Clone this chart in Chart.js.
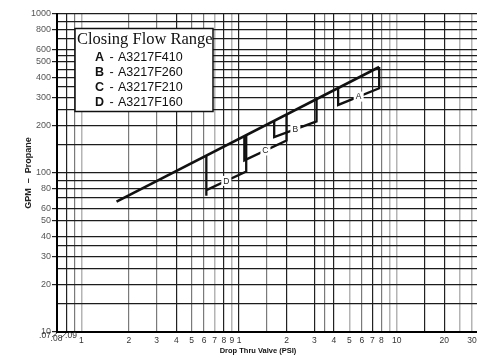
<!DOCTYPE html>
<html>
<head>
<meta charset="utf-8">
<script src="https://cdn.jsdelivr.net/npm/chart.js@4.4.1/dist/chart.umd.min.js"></script>
<style>
  html, body { margin: 0; padding: 0; background: #fff; }
</style>
</head>
<body>
<canvas id="flow" width="477" height="357"></canvas>
<script>
// closing flow ranges, GPM propane vs drop thru valve (log-log paper)
const xGrid = [0.07, 0.08, 0.09, 0.1, 0.2, 0.3, 0.4, 0.5, 0.6, 0.7, 0.8, 0.9, 1, 1.5, 2, 3, 3.5, 4, 5, 6, 7, 8, 9, 10, 15, 20, 25, 30];
const xLabels = ['', '', '', '1', '2', '3', '4', '5', '6', '7', '8', '9', '1', '', '2', '3', '', '4', '5', '6', '7', '8', '', '10', '', '20', '', '30'];
const xLeftLabels = ['.07', '.08', '.09'];
const yGrid = [10, 15, 20, 25, 30, 35, 40, 50, 60, 70, 80, 90, 100, 150, 200, 250, 300, 350, 400, 450, 500, 550, 600, 700, 800, 900, 1000];
const yLabels = ['10', '', '20', '', '30', '', '40', '50', '60', '', '80', '', '100', '', '200', '', '300', '', '400', '', '500', '', '600', '', '800', '', '1000'];

const flowX = [0.167, 7.74];
const flowY = [66, 464];

const rangeNames = ['A', 'B', 'C', 'D'];
const rangeParts = ['A3217F410', 'A3217F260', 'A3217F210', 'A3217F160'];
const rangeAX = [4.25, 4.25, 7.74, 7.74];
const rangeAY = [343, 268, 341, 464];
const rangeBX = [1.67, 1.67, 3.1, 3.1];
const rangeBY = [213, 168, 211, 292];
const rangeCX = [1.08, 1.08, 2.0, 2.0];
const rangeCY = [171, 120, 160, 233];
const rangeDX = [0.62, 0.62, 0.62, 1.11, 1.11];
const rangeDY = [128, 72, 78, 102, 173];

const rangeX = [rangeAX, rangeBX, rangeCX, rangeDX];
const rangeY = [rangeAY, rangeBY, rangeCY, rangeDY];

// shade of each vertical line on the paper
const darkX = [0.08, 0.4, 0.8, 1, 2, 3, 4, 7, 15, 20];
const lightX = [0.1, 0.7, 0.9, 5, 9, 10, 25, 30];
const has = (list, v) => list.some(d => Math.abs(d - v) < 1e-6);

function pts(xs, ys) {
    return xs.map((x, i) => ({ x: x, y: ys[i] }));
}

const datasets = [{
    data: pts(flowX, flowY),
    borderColor: '#111',
    borderWidth: 2.6,
}];
rangeX.forEach((xs, i) => {
    datasets.push({
        data: pts(xs, rangeY[i]),
        borderColor: '#111',
        borderWidth: 2.3,
        borderJoinStyle: 'miter',
    });
});

const paperOverlay = {
    id: 'paperOverlay',
    afterDraw(chart) {
        const ctx = chart.ctx;
        const xs = chart.scales.x;
        const ys = chart.scales.y;
        ctx.save();

        // squeezed labels at the left end of the x axis
        ctx.strokeStyle = '#555';
        ctx.lineWidth = 1;
        ctx.beginPath();
        ctx.moveTo(xs.getPixelForValue(0.07), 333); ctx.lineTo(xs.getPixelForValue(0.07) - 5, 337);
        ctx.moveTo(xs.getPixelForValue(0.08), 333); ctx.lineTo(xs.getPixelForValue(0.08) - 5, 338);
        ctx.stroke();
        ctx.fillStyle = '#333';
        ctx.font = '8.5px "Liberation Sans"';
        ctx.textAlign = 'center';
        ctx.textBaseline = 'middle';
        const leftPos = [[45, 336], [56.5, 339], [71, 336]];
        xLeftLabels.forEach((t, i) => ctx.fillText(t, leftPos[i][0], leftPos[i][1]));

        // x title
        ctx.fillStyle = '#111';
        ctx.font = 'bold 7.5px "Liberation Sans"';
        ctx.fillText('Drop Thru Valve (PSI)', 258, 350.5);

        // letters on the lower line of each range
        ctx.font = '8.5px "Liberation Sans"';
        rangeX.forEach((rx, i) => {
            const n = rx.length;
            const ry = rangeY[i];
            const px = (xs.getPixelForValue(rx[n - 3]) + xs.getPixelForValue(rx[n - 2])) / 2;
            const py = (ys.getPixelForValue(ry[n - 3]) + ys.getPixelForValue(ry[n - 2])) / 2;
            ctx.fillStyle = '#fff';
            ctx.fillRect(px - 5, py - 5, 10, 10);
            ctx.fillStyle = '#222';
            ctx.fillText(rangeNames[i], px, py + 0.5);
        });

        // legend box
        ctx.fillStyle = '#fff';
        ctx.fillRect(75, 28.5, 138, 83);
        ctx.strokeStyle = '#111';
        ctx.lineWidth = 1.5;
        ctx.strokeRect(75, 28.5, 138, 83);
        ctx.textAlign = 'left';
        ctx.textBaseline = 'alphabetic';
        ctx.fillStyle = '#111';
        ctx.font = '16.5px "Liberation Serif"';
        ctx.fillText('Closing Flow Range', 77, 43.5);
        rangeNames.forEach((n, i) => {
            const y = 61 + i * 15;
            ctx.font = 'bold 12.5px "Liberation Sans"';
            ctx.fillText(n, 95, y);
            ctx.font = '12.5px "Liberation Sans"';
            ctx.fillText('-', 109.5, y);
            ctx.fillText(rangeParts[i], 118, y);
        });
        ctx.restore();
    }
};

new Chart(document.getElementById('flow'), {
    type: 'scatter',
    data: { datasets: datasets },
    plugins: [paperOverlay],
    options: {
        responsive: false,
        animation: false,
        showLine: true,
        elements: { point: { radius: 0 } },
        layout: { padding: { top: 14, right: 0, left: 0, bottom: 0 } },
        plugins: { legend: { display: false }, tooltip: { enabled: false } },
        scales: {
            x: {
                type: 'logarithmic',
                min: 0.07,
                max: 32.3,
                afterBuildTicks: s => { s.ticks = xGrid.map(v => ({ value: v })); },
                afterFit: s => { s.height = 25; s.paddingLeft = 0; s.paddingRight = 0; },
                grid: {
                    drawTicks: false,
                    color: c => has(darkX, c.tick.value) ? '#222' : has(lightX, c.tick.value) ? '#b4b4b4' : '#7a7a7a',
                    lineWidth: c => has(lightX, c.tick.value) ? 1.5 : 1.2,
                },
                border: { color: '#000', width: 2 },
                ticks: {
                    autoSkip: false,
                    maxRotation: 0,
                    padding: 4,
                    color: '#333',
                    font: { family: 'Liberation Sans', size: 8.5 },
                    callback: (v, i) => xLabels[i],
                },
            },
            y: {
                type: 'logarithmic',
                min: 10,
                max: 1000,
                afterBuildTicks: s => { s.ticks = yGrid.map(v => ({ value: v })); },
                afterFit: s => { s.width = 57; s.paddingTop = 0; s.paddingBottom = 0; },
                grid: {
                    color: '#1c1c1c',
                    lineWidth: 1.2,
                    tickLength: 5,
                    tickColor: c => yLabels[c.index] ? '#222' : 'rgba(0,0,0,0)',
                },
                border: { color: '#000', width: 2 },
                title: {
                    display: true,
                    text: 'GPM  –  Propane',
                    color: '#222',
                    font: { family: 'Liberation Sans', size: 9, weight: 'bold' },
                    padding: { top: 23, bottom: 0 },
                },
                ticks: {
                    autoSkip: false,
                    padding: 1,
                    color: '#555',
                    font: { family: 'Liberation Sans', size: 9 },
                    callback: (v, i) => yLabels[i],
                },
            },
        },
    },
});
</script>
</body>
</html>
